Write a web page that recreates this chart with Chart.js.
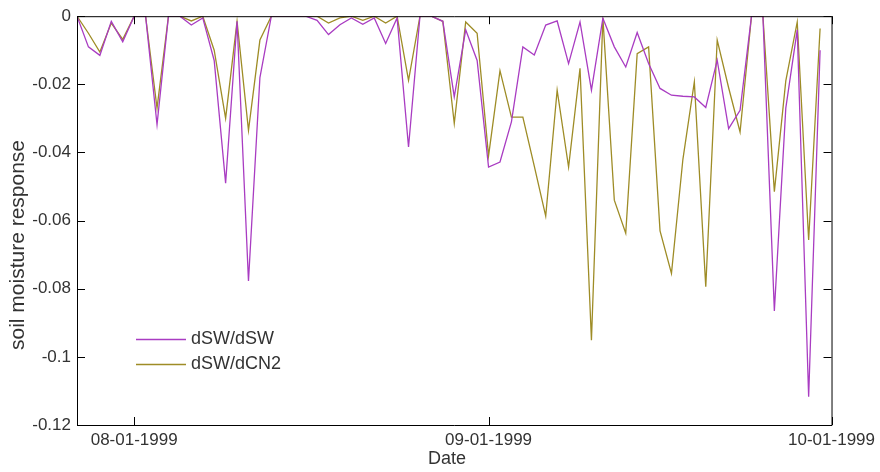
<!DOCTYPE html>
<html>
<head>
<meta charset="utf-8">
<script src="https://cdn.jsdelivr.net/npm/chart.js@4.4.1/dist/chart.umd.min.js"></script>
<style>
  body { margin: 0; background: #fff; }
</style>
</head>
<body>
<canvas id="chart-soil" width="880" height="472"></canvas>
<script>
// days counted from 07-27-1999 (day 0)
let tickDays = [5, 36, 66];
let tickLabels = ['08-01-1999', '09-01-1999', '10-01-1999'];
let yTicks = [0, -0.02, -0.04, -0.06, -0.08, -0.1, -0.12];

// dSW/dSW, one value per day from 07-27 to 09-30
let dswDsw = [
    0, -0.009, -0.0115, -0.0015, -0.0075, 0, 0, -0.0318, 0, 0,
    -0.0026, -0.0005, -0.013, -0.049, -0.0015, -0.0777, -0.018, 0, 0, 0,
    0, -0.0012, -0.0054, -0.0025, -0.0005, -0.0024, -0.0005, -0.008, -0.0005, -0.0384,
    0, 0, -0.0015, -0.0237, -0.004, -0.013, -0.0443, -0.0428, -0.031, -0.009,
    -0.0114, -0.0026, -0.0014, -0.0139, -0.0017, -0.0217, -0.0006, -0.009, -0.0149, -0.0048,
    -0.0139, -0.0212, -0.0232, -0.0235, -0.0237, -0.0268, -0.0129, -0.033, -0.0276, 0,
    0, -0.0865, -0.027, -0.004, -0.1117, -0.010
];

// dSW/dCN2
let dswDcn2 = [
    0, -0.005, -0.0105, -0.002, -0.0068, 0, 0, -0.027, 0, 0,
    -0.0014, 0, -0.010, -0.030, -0.0015, -0.0335, -0.007, 0, 0, 0,
    0, 0, -0.002, -0.0005, 0, -0.0012, 0, -0.002, 0, -0.0188,
    0, 0, -0.0015, -0.0315, -0.0017, -0.005, -0.041, -0.016, -0.0296, -0.0296,
    -0.044, -0.0587, -0.0217, -0.0443, -0.0153, -0.0951, -0.0005, -0.054, -0.0637, -0.011,
    -0.009, -0.063, -0.0755, -0.042, -0.0193, -0.0794, -0.007, -0.021, -0.034, 0,
    0, -0.0515, -0.019, -0.0017, -0.0657, -0.0036
];

let colorDsw = '#a93cc2';
let colorCn2 = '#9e8c26';
let fontFamily = '"Liberation Sans", Arial, sans-serif';

function toPoints(arr) {
    return arr.map((v, i) => ({ x: i, y: v }));
}

// box with inward ticks on all four sides, like the original figure
let frameBox = {
    id: 'frameBox',
    afterDatasetsDraw(chart) {
        let ctx = chart.ctx;
        let a = chart.chartArea;
        let xs = chart.scales.x;
        let ys = chart.scales.y;
        let len = 8;
        ctx.save();
        ctx.strokeStyle = '#000';
        ctx.lineWidth = 1;
        ctx.beginPath();
        ctx.rect(a.left + 0.5, a.top + 0.5, a.right - a.left, a.bottom - a.top);
        yTicks.forEach(v => {
            let py = Math.round(ys.getPixelForValue(v)) + 0.5;
            ctx.moveTo(a.left, py); ctx.lineTo(a.left + len, py);
            ctx.moveTo(a.right, py); ctx.lineTo(a.right - len, py);
        });
        tickDays.forEach(v => {
            let px = Math.round(xs.getPixelForValue(v)) + 0.5;
            ctx.moveTo(px, a.bottom); ctx.lineTo(px, a.bottom - len);
            ctx.moveTo(px, a.top); ctx.lineTo(px, a.top + len);
        });
        ctx.stroke();
        ctx.restore();
    }
};

// legend inside the plot (lower left) and the two axis titles, placed as in the figure
let innerLegend = {
    id: 'innerLegend',
    afterDraw(chart) {
        let ctx = chart.ctx;
        ctx.save();
        ctx.font = '18px ' + fontFamily;
        ctx.textBaseline = 'middle';
        ctx.fillStyle = '#333';
        chart.data.datasets.forEach((ds, i) => {
            let y = 339.5 + i * 25;
            ctx.strokeStyle = ds.borderColor;
            ctx.lineWidth = 1.3;
            ctx.beginPath();
            ctx.moveTo(136, y); ctx.lineTo(186, y);
            ctx.stroke();
            ctx.fillText(ds.label, 191, y);
        });

        ctx.textAlign = 'center';
        ctx.fillText('Date', 447, 459);

        ctx.font = '21px ' + fontFamily;
        ctx.translate(18, 245);
        ctx.rotate(-Math.PI / 2);
        ctx.fillText('soil moisture response', 0, 0);
        ctx.restore();
    }
};

Chart.defaults.font.family = fontFamily;
Chart.defaults.color = '#333';

let chartSoil = new Chart(document.getElementById('chart-soil').getContext('2d'), {
    type: 'line',
    data: {
        datasets: [
            {
                label: 'dSW/dSW',
                data: toPoints(dswDsw),
                borderColor: colorDsw,
                borderWidth: 1.3,
                pointRadius: 0,
                tension: 0,
                fill: false
            },
            {
                label: 'dSW/dCN2',
                data: toPoints(dswDcn2),
                borderColor: colorCn2,
                borderWidth: 1.3,
                pointRadius: 0,
                tension: 0,
                fill: false
            }
        ]
    },
    options: {
        responsive: false,
        animation: false,
        layout: { padding: { left: 0, top: 16, right: 45, bottom: 0 } },
        plugins: {
            legend: { display: false },
            tooltip: { enabled: false }
        },
        scales: {
            x: {
                type: 'linear',
                min: 0,
                max: 66,
                grid: { display: false, drawTicks: false },
                border: { display: false },
                afterBuildTicks: scale => {
                    scale.ticks = tickDays.map(v => ({ value: v }));
                },
                afterFit: scale => { scale.height = 47; },
                ticks: {
                    font: { size: 17 },
                    padding: 5,
                    maxRotation: 0,
                    autoSkip: false,
                    callback: v => tickLabels[tickDays.indexOf(v)]
                }
            },
            y: {
                min: -0.12,
                max: 0,
                grid: { display: false, drawTicks: false },
                border: { display: false },
                afterBuildTicks: scale => {
                    scale.ticks = yTicks.map(v => ({ value: v }));
                },
                afterFit: scale => { scale.width = 77; },
                ticks: {
                    font: { size: 17 },
                    padding: 6,
                    callback: v => String(+v.toFixed(2))
                }
            }
        }
    },
    plugins: [frameBox, innerLegend]
});
</script>
</body>
</html>
